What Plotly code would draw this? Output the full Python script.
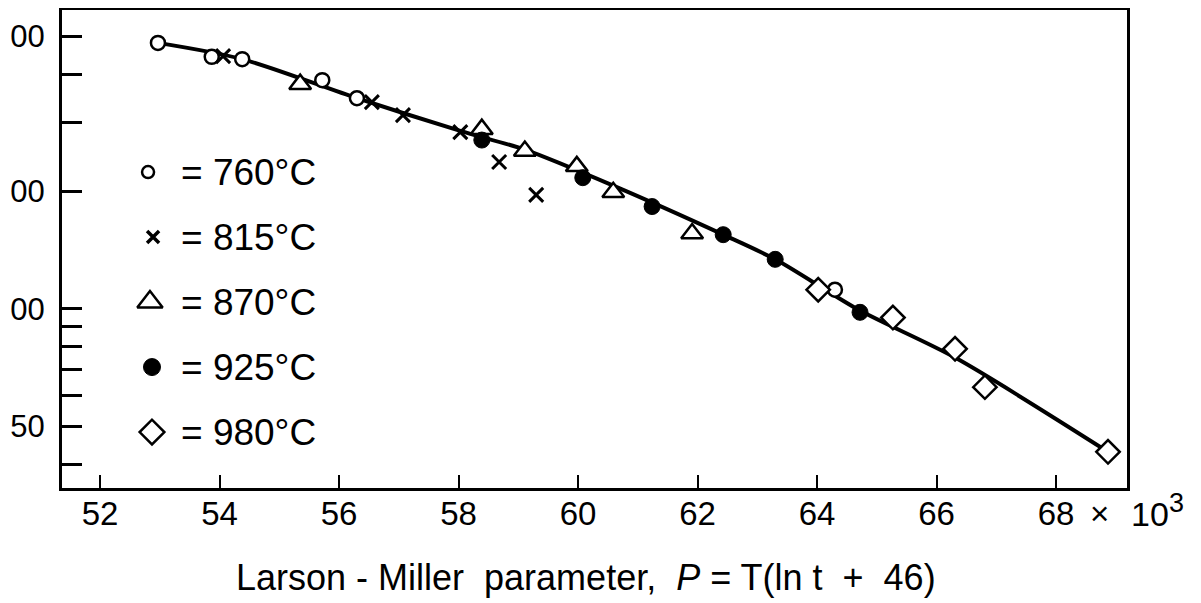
import plotly.graph_objects as go

# Larson-Miller parameter (x 10^3) and stress values
p_760 = [52.97, 53.87, 54.38, 55.72, 56.30, 64.30]
s_760 = [481, 443, 437, 386, 347, 112]

p_815 = [54.06, 56.55, 57.07, 58.03, 58.68, 59.30]
s_815 = [445, 339, 314, 284, 238, 196]

p_870 = [55.35, 58.39, 59.11, 59.98, 60.59, 61.91]
s_870 = [377, 289, 254, 232, 199, 156]

p_925 = [58.39, 60.08, 61.24, 62.43, 63.30, 64.72]
s_925 = [271, 217, 183, 155, 134, 98]

p_980 = [64.02, 65.27, 66.31, 66.81, 68.87]
s_980 = [112, 95, 79, 63, 43]

# master curve
p_fit = [52.97, 54.38, 56.30, 58.03, 59.11, 60.59, 62.43, 63.30, 64.72, 66.31, 68.87]
s_fit = [481, 437, 347, 286, 256, 207, 155, 134, 99, 75, 43]

x_ticks = [52, 54, 56, 58, 60, 62, 64, 66, 68]
x_ticktext = ["52", "54", "56", "58", "60", "62", "64", "66", "68"]
# the scan crops the first digit of the upper stress labels; only these digits are visible
y_ticks = [50, 100, 200, 500]
y_ticktext = ["50", "00", "00", "00"]
y_minor_ticks = [40, 60, 70, 80, 90, 300, 400, 600]

legend_labels = ["= 760°C", "= 815°C", "= 870°C", "= 925°C", "= 980°C"]

FONT = "Liberation Sans, Arial, sans-serif"
BLACK = "#000000"

styles = [
    dict(symbol="circle", size=14, color="white", line=dict(color=BLACK, width=2.5)),
    dict(symbol="x-thin", size=14, color=BLACK, line=dict(color=BLACK, width=3)),
    dict(symbol="triangle-up", size=19, color="white", line=dict(color=BLACK, width=2.5)),
    dict(symbol="circle", size=16, color=BLACK, line=dict(color=BLACK, width=1)),
    dict(symbol="diamond", size=18, color="white", line=dict(color=BLACK, width=2.5)),
]
legend_styles = [
    dict(symbol="circle", size=12, color="white", line=dict(color=BLACK, width=2.5)),
    dict(symbol="x-thin", size=12, color=BLACK, line=dict(color=BLACK, width=3.5)),
    dict(symbol="triangle-up", size=22, color="white", line=dict(color=BLACK, width=2.5)),
    dict(symbol="circle", size=17, color=BLACK, line=dict(color=BLACK, width=1)),
    dict(symbol="diamond", size=19, color="white", line=dict(color=BLACK, width=2.5)),
]

fig = go.Figure()

fig.add_trace(go.Scatter(
    x=p_fit, y=s_fit, mode="lines",
    line=dict(color=BLACK, width=4, shape="spline", smoothing=0.8),
    showlegend=False, hoverinfo="skip"))

series = [(p_760, s_760), (p_815, s_815), (p_870, s_870), (p_925, s_925), (p_980, s_980)]
for (px, sy), st, name in zip(series, styles, legend_labels):
    fig.add_trace(go.Scatter(x=px, y=sy, mode="markers", marker=st,
                             name=name, showlegend=False))

# legend keys drawn on an overlay axis in plot-fraction units
key_x = [0.0808, 0.0855, 0.0826, 0.0845, 0.0845]
key_y = [0.661, 0.525, 0.389, 0.253, 0.117]
for kx, ky, st in zip(key_x, key_y, legend_styles):
    fig.add_trace(go.Scatter(x=[kx], y=[ky], mode="markers", marker=st,
                             xaxis="x2", yaxis="y2", showlegend=False,
                             hoverinfo="skip"))

annotations = []
for ky, lab in zip(key_y, legend_labels):
    annotations.append(dict(
        x=0.1099, y=ky, xref="paper", yref="paper", text=lab,
        showarrow=False, xanchor="left", yanchor="middle",
        font=dict(family=FONT, size=37, color=BLACK)))

annotations.append(dict(
    x=0.9634, y=-0.011, xref="paper", yref="paper",
    text="×", showarrow=False, xanchor="left", yanchor="top",
    font=dict(family=FONT, size=33, color=BLACK)))
annotations.append(dict(
    x=1.0023, y=-0.011, xref="paper", yref="paper",
    text="10", showarrow=False, xanchor="left", yanchor="top",
    font=dict(family=FONT, size=34, color=BLACK)))
annotations.append(dict(
    x=1.0375, y=0.004, xref="paper", yref="paper",
    text="3", showarrow=False, xanchor="left", yanchor="top",
    font=dict(family=FONT, size=27, color=BLACK)))

annotations.append(dict(
    x=0.492, y=-0.187, xref="paper", yref="paper",
    text="Larson - Miller  parameter,  <i>P</i> = T(ln t  +  46)",
    showarrow=False, xanchor="center", yanchor="middle",
    font=dict(family=FONT, size=36, color=BLACK)))

# the page adds an 8px body margin, so the figure is 8px smaller and shifted
fig.update_layout(
    width=1193, height=595,
    margin=dict(l=54, r=74, t=2, b=115, autoexpand=False),
    paper_bgcolor="white", plot_bgcolor="white",
    font=dict(family=FONT, color=BLACK),
    showlegend=False,
    xaxis=dict(
        range=[51.364, 69.188], tickmode="array", tickvals=x_ticks, ticktext=x_ticktext,
        ticks="inside", ticklen=13, tickwidth=2, tickcolor=BLACK,
        showline=True, linewidth=3, linecolor=BLACK, mirror=True,
        showgrid=False, zeroline=False, automargin=False,
        tickfont=dict(family=FONT, size=33, color=BLACK),
        ticklabelstandoff=-6,
    ),
    yaxis=dict(
        type="log", range=[1.5407, 2.7665], tickmode="array", tickvals=y_ticks,
        ticktext=y_ticktext,
        ticks="inside", ticklen=20, tickwidth=2.5, tickcolor=BLACK,
        minor=dict(tickmode="array", tickvals=y_minor_ticks, ticks="inside",
                   ticklen=20, tickwidth=2.5, tickcolor=BLACK, showgrid=False),
        showline=True, linewidth=3, linecolor=BLACK, mirror=True,
        showgrid=False, zeroline=False, automargin=False,
        tickfont=dict(family=FONT, size=31, color=BLACK),
        ticklabelstandoff=8,
    ),
    xaxis2=dict(overlaying="x", range=[0, 1], visible=False, anchor="y2"),
    yaxis2=dict(overlaying="y", range=[0, 1], visible=False, anchor="x2"),
    annotations=annotations,
)

fig.write_html("out.html")
